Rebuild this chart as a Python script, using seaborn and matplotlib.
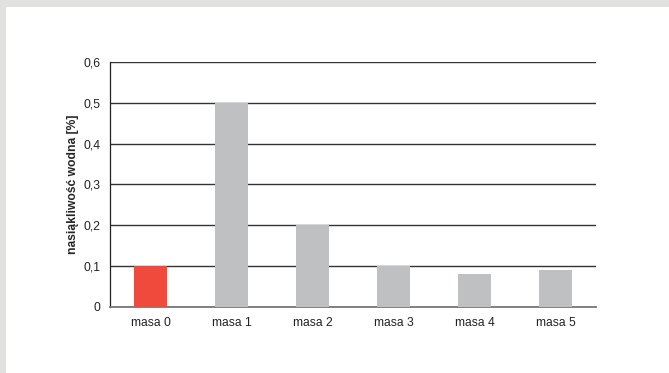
import matplotlib
matplotlib.use("Agg")
import matplotlib.pyplot as plt
import matplotlib.patches as mpatches
import numpy as np
import pandas as pd
import seaborn as sns

# Data
categories = ["masa 0", "masa 1", "masa 2", "masa 3", "masa 4", "masa 5"]
values = [0.10, 0.50, 0.20, 0.10, 0.08, 0.09]
y_ticks = [0, 0.1, 0.2, 0.3, 0.4, 0.5, 0.6]
y_tick_labels = ["0", "0,1", "0,2", "0,3", "0,4", "0,5", "0,6"]
y_label = "nasiąkliwość wodna [%]"

bar_colors = ["#f04a3c"] + ["#bfc0c1"] * 5

sns.set_style("white")
plt.rcParams["font.family"] = ["Liberation Sans", "DejaVu Sans"]

df = pd.DataFrame({"kategoria": categories, "wartosc": values})

fig = plt.figure(figsize=(6.69, 3.73), dpi=100)
fig.patch.set_facecolor("white")

# grey frame strips along top and left edge
fig.patches.append(mpatches.Rectangle((0, 1 - 7 / 373), 1, 7 / 373, transform=fig.transFigure,
                                      facecolor="#e1e1df", edgecolor="none", zorder=0))
fig.patches.append(mpatches.Rectangle((0, 0), 6 / 669, 1, transform=fig.transFigure,
                                      facecolor="#e1e1df", edgecolor="none", zorder=0))

ax = fig.add_axes([0.1644, 0.177, 0.7266, 0.657])
sns.barplot(data=df, x="kategoria", y="wartosc", hue="kategoria", palette=bar_colors,
            width=0.41, legend=False, saturation=1, linewidth=0, ax=ax, zorder=3)

fs = 8.7
ax.set_ylim(0, 0.6)
ax.set_xlim(-0.5, len(categories) - 0.5)
ax.set_yticks(y_ticks)
ax.set_yticklabels(y_tick_labels, fontsize=fs, color="#222222")
ax.set_xticks(range(len(categories)))
ax.set_xticklabels(categories, fontsize=fs, color="#222222")
ax.set_xticks(np.arange(-0.5, len(categories), 1.0), minor=True)
ax.tick_params(axis="x", which="major", length=0, pad=7)
ax.tick_params(axis="x", which="minor", length=4, width=0.8, color="#222222", direction="out")
ax.tick_params(axis="y", length=4, width=0.8, color="#222222", direction="out", pad=3)

ax.grid(axis="y", color="#333333", linewidth=1.0, zorder=1)
ax.set_axisbelow(True)
for s in ["top", "right"]:
    ax.spines[s].set_visible(False)
ax.spines["left"].set_color("#222222")
ax.spines["left"].set_linewidth(0.9)
ax.spines["bottom"].set_color("#777777")
ax.spines["bottom"].set_linewidth(1.3)

ax.set_xlabel("")
ax.set_ylabel(y_label, fontsize=fs, fontweight="bold", labelpad=3)

fig.savefig("out.png", dpi=100)
